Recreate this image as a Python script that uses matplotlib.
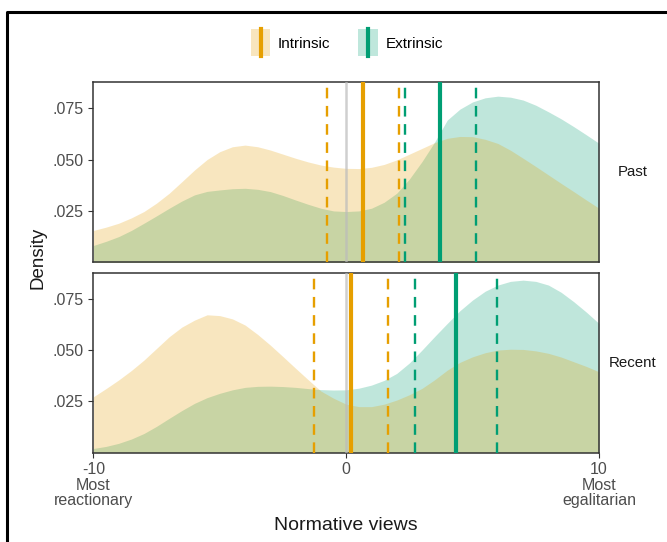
"""
Density of normative views, intrinsic vs extrinsic, past and recent panels.
"""
import numpy as np
import matplotlib
matplotlib.use('Agg')
import matplotlib.pyplot as plt
from matplotlib.lines import Line2D
from matplotlib.patches import Rectangle
from matplotlib.legend_handler import HandlerBase

plt.rcParams['font.family'] = ['Liberation Sans', 'DejaVu Sans']

# data (every 0.5 from -10 to 10)
x_grid = np.arange(-10, 10.5, 0.5)
past_intrinsic = [0.0155, 0.0171, 0.0190, 0.0216, 0.0247, 0.0288, 0.0336, 0.0392,
                  0.0449, 0.0500, 0.0538, 0.0562, 0.0570, 0.0562, 0.0546, 0.0526,
                  0.0506, 0.0488, 0.0473, 0.0463, 0.0457, 0.0456, 0.0462, 0.0476,
                  0.0498, 0.0526, 0.0554, 0.0582, 0.0603, 0.0612, 0.0611, 0.0598,
                  0.0578, 0.0545, 0.0506, 0.0466, 0.0425, 0.0384, 0.0344, 0.0303,
                  0.0263]
past_extrinsic = [0.0082, 0.0102, 0.0125, 0.0155, 0.0190, 0.0226, 0.0263, 0.0298,
                  0.0328, 0.0345, 0.0352, 0.0358, 0.0360, 0.0355, 0.0344, 0.0325,
                  0.0303, 0.0282, 0.0263, 0.0250, 0.0247, 0.0250, 0.0263, 0.0292,
                  0.0336, 0.0405, 0.0490, 0.0585, 0.0692, 0.0745, 0.0780, 0.0800,
                  0.0808, 0.0803, 0.0789, 0.0764, 0.0732, 0.0698, 0.0660, 0.0620,
                  0.0579]
recent_intrinsic = [0.0272, 0.0312, 0.0354, 0.0400, 0.0451, 0.0508, 0.0565, 0.0612,
                    0.0646, 0.0672, 0.0668, 0.0652, 0.0622, 0.0576, 0.0524, 0.0468,
                    0.0411, 0.0355, 0.0300, 0.0265, 0.0236, 0.0224, 0.0224, 0.0236,
                    0.0256, 0.0282, 0.0313, 0.0355, 0.0402, 0.0440, 0.0467, 0.0487,
                    0.0500, 0.0504, 0.0503, 0.0496, 0.0484, 0.0466, 0.0443, 0.0420,
                    0.0394]
recent_extrinsic = [0.0020, 0.0030, 0.0045, 0.0066, 0.0093, 0.0128, 0.0167, 0.0205,
                    0.0240, 0.0268, 0.0289, 0.0306, 0.0318, 0.0323, 0.0324, 0.0322,
                    0.0318, 0.0312, 0.0307, 0.0305, 0.0306, 0.0314, 0.0329, 0.0352,
                    0.0386, 0.0437, 0.0500, 0.0566, 0.0630, 0.0692, 0.0744, 0.0787,
                    0.0817, 0.0835, 0.0841, 0.0835, 0.0817, 0.0782, 0.0736, 0.0685,
                    0.0630]

# quartiles (25th, median, 75th)
past_intr_q = [-0.75, 0.68, 2.08]
past_extr_q = [2.31, 3.71, 5.12]
recent_intr_q = [-1.28, 0.18, 1.64]
recent_extr_q = [2.71, 4.34, 5.98]

panels = ['Past', 'Recent']
y_ticks = [0.025, 0.050, 0.075]
y_tick_labels = ['.025', '.050', '.075']
x_ticks = [-10, 0, 10]
x_tick_labels = ['-10\nMost\nreactionary', '0', '10\nMost\negalitarian']

ORANGE = '#E69F00'
GREEN = '#009E73'
FILL_ORANGE = '#F8E5BD'
FILL_GREEN = '#BFE7DC'

fig = plt.figure(figsize=(6.67, 5.42), dpi=100)
ax1 = fig.add_axes([0.140, 0.516, 0.758, 0.332])
ax2 = fig.add_axes([0.140, 0.165, 0.758, 0.331])

series = [(past_intrinsic, past_extrinsic, past_intr_q, past_extr_q),
          (recent_intrinsic, recent_extrinsic, recent_intr_q, recent_extr_q)]

for ax, name, (intr, extr, iq, eq) in zip([ax1, ax2], panels, series):
    ax.fill_between(x_grid, extr, color=GREEN, alpha=0.25, linewidth=0, zorder=1)
    ax.fill_between(x_grid, intr, color=ORANGE, alpha=0.25, linewidth=0, zorder=2)
    ax.axvline(0, color='#BBBBBB', linewidth=1.8, alpha=0.7, zorder=3)
    for q, col in [(iq, ORANGE), (eq, GREEN)]:
        ax.axvline(q[0], color=col, linewidth=1.7, linestyle=(0, (4.5, 3.2)), zorder=4)
        ax.axvline(q[2], color=col, linewidth=1.7, linestyle=(0, (4.5, 3.2)), zorder=4)
        ax.axvline(q[1], color=col, linewidth=3.0, zorder=5)

    ax.set_xlim(-10, 10)
    ax.set_ylim(0, 0.0875)
    ax.set_yticks(y_ticks)
    ax.set_yticklabels(y_tick_labels)
    ax.tick_params(axis='both', colors='#333333', labelcolor='#4D4D4D',
                   labelsize=11.5, length=3.5, width=0.8)
    for sp in ax.spines.values():
        sp.set_color('#333333')
        sp.set_linewidth(1.1)
    ax.text(1.067, 0.5, name, transform=ax.transAxes, ha='center', va='center',
            fontsize=10.8, color='#1A1A1A')

ax1.set_xticks([])
ax2.set_xticks(x_ticks)
ax2.set_xticklabels(x_tick_labels, linespacing=1.05)
ax2.set_xlabel('Normative views', fontsize=14, color='#1A1A1A', labelpad=6)
fig.text(0.057, 0.524, 'Density', rotation=90, ha='center', va='center',
         fontsize=13.5, color='#1A1A1A')


# legend key: light fill with a vertical line through the middle
class Key:
    def __init__(self, fill, line):
        self.fill, self.line = fill, line


class KeyHandler(HandlerBase):
    def create_artists(self, legend, orig_handle, xdescent, ydescent,
                       width, height, fontsize, trans):
        r = Rectangle((-xdescent, -ydescent - 4), width, height + 8,
                      facecolor=orig_handle.fill, edgecolor='none', transform=trans)
        l = Line2D([-xdescent + width / 2] * 2, [-ydescent - 4, height - ydescent + 4],
                   color=orig_handle.line, linewidth=3.0, transform=trans)
        return [r, l]


keys = [Key(FILL_ORANGE, ORANGE), Key(FILL_GREEN, GREEN)]
fig.legend(keys, ['Intrinsic', 'Extrinsic'], handler_map={Key: KeyHandler()},
           loc='center', bbox_to_anchor=(0.52, 0.921), ncol=2, frameon=False,
           fontsize=11, handlelength=1.3, handleheight=1.2, handletextpad=0.5,
           columnspacing=1.8)

# outer frame (left and top edges visible in reference)
fig.add_artist(Line2D([0.0105, 0.0105, 1.0], [0.0, 0.978, 0.978],
                      transform=fig.transFigure, color='black', linewidth=2.2))

fig.savefig('out.png', dpi=100)
plt.close()
